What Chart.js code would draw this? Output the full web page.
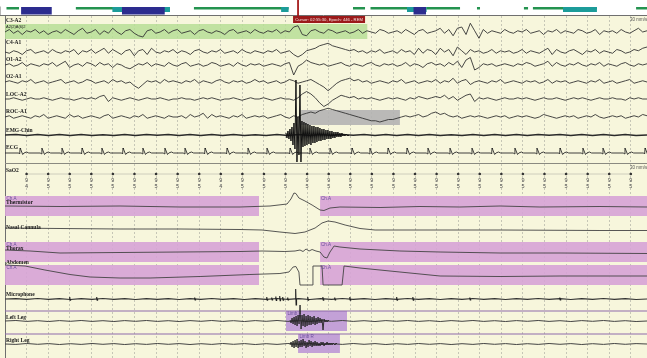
<!DOCTYPE html>
<html>
<head>
<meta charset="utf-8">
<script src="https://cdn.jsdelivr.net/npm/chart.js@4.4.1/dist/chart.umd.min.js"></script>
<style>
html,body{margin:0;padding:0;background:#f7f6dc;}
canvas{display:block;}
</style>
</head>
<body>
<canvas id="psg" width="647" height="358"></canvas>
<script>
"use strict";

// ---- data (time in seconds inside the 30 s epoch, amplitudes in screen units, up = positive)
var epochEnd = 29.75;
var cursorTime = 13.58;
var cursorText = "Cursor: 02:55:30, Epoch: 446 - REM";

var c3a2 = [0,2,-1,1,-2,1,0,2,-1,1, -2,0,1,-1,2,0,-2,1,3,-1, 0,2,-2,1,-1,3,0,-2,1,2,
  -1,-3,-4,1,2,-1,0,2,-1,1, 2,-1,0,1,-2,1,2,0,-1,1, 0,-2,1,2,-1,0,1,-1,2,0,
  -1,1,0,2,-1,1,0,4,5,-2, -3,1,2,0,-1,2,1,-1,0,1, -1,0,2,-1,1,0,-1,2,1,-1,
  0,1,-1,2,0,-2,1,2,-1,0, 1,3,-1,2,-3,3,4,-2,7,1, -5,2,-1,1,0,-1,2,0,-1,1,
  0,2,-1,0,1,-2,1,0,2,-1, 1,0,-1,2,1,-1,0,2,-2,1, 0,1,-1,2,0,-1,1,3,0,1];
var c4a1 = [0,-1,1,0,-2,1,2,-1,0,1, -1,2,0,-1,1,0,2,-2,1,0, 2,-1,1,3,-1,2,0,-2,1,2,
  -3,1,2,-2,3,0,-1,1,0,2, -1,1,0,-2,1,2,0,-1,1,0, 2,-1,0,1,-1,2,0,-1,1,0,
  -1,1,0,2,-1,0,1,-2,-4,-2, 1,2,3,5,6,7,5,4,3,2, 1,2,0,1,-1,1,0,2,-1,0,
  1,-1,2,0,1,-2,3,-1,2,1, -2,3,0,2,-3,4,1,-2,2,0, 1,-1,0,2,-1,1,0,1,-1,0,
  2,-1,1,0,-1,1,3,-2,2,0, -1,1,2,0,-2,1,0,2,-1,1, 0,-1,2,1,-1,0,2,1,3,4];
var o1a2 = [0,1,-1,0,2,-1,1,0,-1,1, 0,2,-1,1,3,-2,0,1,-1,2, 1,-1,2,0,1,-2,1,0,-2,-3,
  -1,1,0,2,-1,1,0,-1,2,0, -1,1,2,-1,0,1,-1,0,2,1, -1,0,1,-1,2,0,-1,1,0,1,
  -1,0,1,0,-1,1,2,-8,-1,1, 4,2,1,0,1,-1,0,1,2,0, -1,1,0,-1,1,2,0,-1,1,0,
  1,-1,0,2,-1,1,0,-2,1,2, 0,1,-1,2,0,3,-2,4,6,-4, -2,1,0,1,-1,0,1,0,-1,1,
  0,2,1,-1,0,1,3,-1,2,0, -1,1,0,2,0,-1,1,0,2,-1, 1,0,-1,1,2,0,-1,1,0,1];
var o2a1 = [0,1,0,-1,1,0,2,-1,0,1, -1,0,1,2,-1,0,1,-1,0,2, 1,-1,0,1,-1,2,0,1,-1,0,
  -3,-5,-2,1,0,1,-1,2,0,1, 0,-1,1,0,2,-1,1,0,-1,1, 2,0,-1,1,0,1,-1,0,2,0,
  1,-1,0,1,-1,0,2,1,-1,0, 1,2,0,-2,-4,-7,-4,-1,1,2, 3,1,2,0,1,-1,0,1,0,-1,
  1,0,2,-1,0,1,-1,0,1,0, 2,-1,1,0,3,-1,1,2,-2,0, 1,0,-1,1,0,2,-1,0,1,0,
  -1,1,0,1,-1,0,2,-1,1,0, 1,-1,0,1,0,-1,1,0,2,-1, 0,1,-1,0,1,2,-1,0,1,0];
var locA2 = [0,0,1,0,-1,0,1,0,0,1, 0,-1,0,1,0,0,-1,0,1,0, 1,0,2,3,-2,1,0,-1,0,1,
  0,-1,0,1,0,0,1,0,-1,0, 0,1,0,0,-1,0,1,0,1,0, -1,0,0,1,0,-1,0,1,0,0,
  1,0,-1,0,1,0,0,-1,1,4, 6,4,1,-3,-6,-4,-1,1,3,2, 1,2,0,1,0,1,0,-1,0,1,
  0,1,0,-1,1,0,2,1,0,1, 2,1,3,0,2,-1,1,3,4,-2, 1,0,1,0,-1,0,1,0,0,1,
  0,1,0,-1,0,1,0,0,1,0, -1,0,1,0,1,0,-1,0,1,0, 0,1,0,0,-1,1,0,1,0,0];
var rocA1 = [0,1,-1,0,1,0,-1,1,0,2, -1,0,1,0,-1,2,0,1,-1,0, 1,0,-1,1,2,-1,0,1,0,-1,
  1,0,2,-1,0,1,0,-1,1,0, 0,1,-1,2,0,1,3,-1,2,0, 1,0,-1,1,0,2,-1,0,1,0,
  1,-1,0,1,2,0,-1,1,0,2, 3,4,3,5,6,7,6,5,4,3, 2,1,0,-1,-2,-3,-3,-4,-3,-2,
  -2,-1,0,1,0,1,2,0,1,3, 4,2,3,1,0,1,-1,0,1,0, 1,0,-1,0,1,0,1,-1,0,1,
  0,1,0,-1,0,2,1,0,-1,0, 1,0,1,-1,0,1,0,2,0,-1, 0,1,0,1,-1,0,1,0,2,1];

var emgChin = [0,0.6,-0.5,0.4,-0.6,0.5,-0.4,0.6,-0.5,0.3,-0.6,0.5,-0.4,0.6,-0.3,0.5,-0.6,0.4,-0.5,0.6,
  -0.4,0.5,-0.6,0.3,-0.5,0.6,-0.4,0.5,-0.6,0.4,-0.5,0.6,-0.3,0.5,-0.6,0.4,-0.5,0.6,-0.4,0.5,
  -0.6,0.3,-0.5,0.6,-0.4,0.5,-0.6,0.4,-0.5,0.6,-0.3,0.5,-0.6,0.4,-0.5,0.6,-0.4,0.5,-0.6,0];
var emgBurstStart = 13.02;
var burstStep = 0.0463;
var emgBurst = [2,-3,4,-4,6,-6,8, -10,12,-14,55,-27,18,-20, 50,-27,14,-12,13,-11,12,
  -10,11,-9,10,-10,9,-8, 9,-8,8,-7,8,-6,7, -6,6,-5,6,-5,5,-4, 5,-4,4,-4,4,-3,3,
  -3,3,-2,3,-2,2,-2, 2,-1,1,-1,1,0,-1,0];

var ecgBeats = [0.70,1.71,2.64,3.57,4.49,5.47,6.39,7.41,8.34,9.27,10.29,11.26,12.14,13.21,14.13,
  15.06,16.08,16.91,17.75,18.63,19.60,20.62,21.64,22.57,23.63,24.65,25.72,26.78,27.71,28.73,29.66];
var ecgBeatOffsets = [-0.06,-0.02,0.0,0.02,0.12,0.18,0.30,0.40];
var ecgBeatValues  = [0,-1,5,4,-1.5,0,1,0];

var sao2Times  = [1,2,3,4,5,6,7,8,9,10,11,12,13,14,15,16,17,18,19,20,21,22,23,24,25,26,27,28,29];
var sao2Values = [94,95,95,95,95,95,95,95,95,94,95,95,95,95,95,95,95,95,95,95,95,95,95,95,95,95,95,95,95];

var thermTimes  = [0,2.55,5.33,8.11,10.89,12.28,13.07,13.25,13.39,13.48,13.62,13.90,14.23,14.60,14.78,15.06,15.52,17.38,19.23,21.08,22.94,24.79,27.57,29.75];
var thermValues = [0,-0.5,0,-1,-1,0,2,7,13,12.5,8,5,1,-4,-4.5,-2,-1,-1.5,-0.5,-1,0,-1,-0.5,-1];
var nasalTimes  = [0,2.55,5.33,8.11,10.89,11.91,12.74,13.44,13.90,14.37,14.69,14.97,15.29,15.76,16.45,17.15,19.23,22.94,27.57,29.75];
var nasalValues = [1,0.5,0,0,-0.5,-1,-3,-4.5,-3,1,6,8,7,4,0.5,-1,-1,-1,-1.5,-1.5];
var thoraxTimes  = [0,1.16,2.55,5.33,8.11,10.89,11.91,12.97,13.44,13.67,13.81,13.95,14.09,14.23,14.41,14.60,14.78,14.92,15.06,15.25,15.52,16.45,18.30,20.16,22.94,25.72,29.75];
var thoraxValues = [2,1,-1,-0.5,0,0.5,1,0.5,1,2,0.5,3,1,2.5,1,0,-5,-6,0,6,5,3,1,0,-1,-1,-1.5];
var abdomenTimes  = [0,0.93,1.85,3.01,3.94,5.33,6.72,9.04,11.35,12.74,13.16,13.35,13.48,13.62,13.67,14.23,14.27,14.69,14.74,15.62,15.71,16.45,18.30,20.16,22.94,25.72,29.75];
var abdomenValues = [10,9,5,0.5,-2,-3,-3,-1.5,0.5,1.5,3,8,8.5,3,-10,-10,9,9,-10,-10,9,7,3,-1,-1.5,-1,-1];

var micBase = [0,0.4,-0.3,0.5,-0.4,0.3,-0.5,0.4,-0.3,0.5,-0.4,0.3,-0.5,0.4,-0.3,0.4,-0.5,0.3,-0.4,0.5,
  -0.3,0.4,-0.5,0.3,-0.4,0.5,-0.3,0.4,-0.5,0.3,-0.4,0.5,-0.3,0.4,-0.5,0.3,-0.4,0.5,-0.3,0.4,
  -0.5,0.3,-0.4,0.5,-0.3,0.4,-0.5,0.3,-0.4,0.5,-0.3,0.4,-0.5,0.3,-0.4,0.5,-0.3,0.4,-0.5,0];
var micBlipTimes = [3.01,4.26,8.80,12.14,12.37,12.56,12.74,12.88,13.11,13.48,14.04,14.74,15.29,15.99,18.16,18.91,21.55,25.72];
var micBlipSizes = [2,2,1.5,2,1.5,2.5,3,2,1.5,10,2,2,1.5,2,2,2,1.5,1.5];
var micBlipShape = [[-0.03,0],[-0.01,1],[0.01,-0.6],[0.03,0]];

var leftLegBase = [0,0.5,-0.4,0.3,-0.5,0.4,-0.3,0.5,-0.4,0.3,-0.5,0.4,-0.3,0.5,-0.4,0.3,-0.5,0.4,-0.3,0.5,
  -0.4,0.3,-0.5,0.4,-0.3,0.5,-0.4,0.3,-0.5,0.4,-0.3,0.5,-0.4,0.3,-0.5,0.4,-0.3,0.5,-0.4,0.3,
  -0.5,0.4,-0.3,0.5,-0.4,0.3,-0.5,0.4,-0.3,0.5,-0.4,0.3,-0.5,0.4,-0.3,0.5,-0.4,0.3,-0.5,0];
var leftLegBurstStart = 13.21;
var leftLegBurst = [1,-2,3,-3,4,-4,5,-5,6,-3, 16,-8,6,-5,7,-6,5,-5,6,-4,
  5,-4,4,-3,5,-4,3,-3,4,-2, 3,-2,2,-9,2,-1,1,-1,1,0];
var rightLegBase = [0,-0.4,0.5,-0.3,0.4,-0.5,0.3,-0.4,0.5,-0.3,0.4,-0.5,0.3,-0.4,0.5,-0.3,0.4,-0.5,0.3,-0.4,
  0.5,-0.3,0.4,-0.5,0.3,-0.4,0.5,-0.3,0.4,-0.5,0.3,-0.4,0.5,-0.3,0.4,-0.5,0.3,-0.4,0.5,-0.3,
  0.4,-0.5,0.3,-0.4,0.5,-0.3,0.4,-0.5,0.3,-0.4,0.5,-0.3,0.4,-0.5,0.3,-0.4,0.5,-0.3,0.4,0];
var rightLegBurstStart = 13.21;
var rightLegBurst = [-1,2,-3,3,-4,4,-3,5,-4,3, -3,4,-3,5,-2,3,-4,2,-3,4,
  -2,3,-3,2,-2,3,-2,2,-2,1, -2,2,-1,2,-2,1,-1,2,-1,1, -1,1,-1,1,0,-1,1,0];

// scored events [start, end] in seconds
var c3Highlight = [[0, 16.80]];
var apneaEvents = [[0, 11.77], [14.60, 29.75]];
var rocEvent    = [[13.72, 18.30]];
var limbLEvent  = [[13.02, 15.85]];
var limbREvent  = [[13.58, 15.52]];

// hypnogram of the night, position in percent of the recording
var hypStart = [0.2,2.5,11,16.7,18.2,24.6,29.4,43,54.2,56.9,62.6,63.6,65.6,73.5,80.8,82.2,86.9,98.3];
var hypEnd   = [2.2,7.3,17.9,18.5,24.9,25.7,44.2,44.2,56.1,63.6,65.7,65.6,70.9,74,81.5,92.2,92.2,100];
var hypStage = [1,3,1,2,3,2,1,2,1,1,2,3,1,1,1,1,2,1];

// ---- layout
var eegGain = 1.25;
var rowY = {c3:32, c4:52, o1:65, o2:82, loc:99, roc:117, emg:135, ecg:153, sao2:174,
  therm:206, nasal:229, thorax:252, abdomen:275, mic:299, lleg:321, rleg:344};
var labels = [["C3-A2",21],["C4-A1",43],["O1-A2",60],["O2-A1",77],["LOC-A2",95],["ROC-A1",112],
  ["EMG-Chin",131],["ECG",148],["SaO2",171],["Thermistor",203],["Nasal Cannula",228],["Thorax",249],
  ["Abdomen",263],["Microphone",295],["Left Leg",318],["Right Leg",341]];
var stageColor = {1:"#24934f", 2:"#1c9c9a", 3:"#2c2c8e"};
var stageBottom = {1:9.5, 2:12, 3:14.5};
var stageOrder = {1:7, 2:6, 3:5};

function evenSamples(values, base, gain) {
  var dt = epochEnd / (values.length - 1), g = gain || 1;
  return values.map(function (v, i) { return {x: i * dt, y: base - v * g}; });
}
function stepSamples(values, base, t0) {
  return values.map(function (v, i) { return {x: t0 + i * burstStep, y: base - v}; });
}
function pairSamples(times, values, base) {
  return times.map(function (t, i) { return {x: t, y: base - values[i]}; });
}
function trace(points, extra) {
  return Object.assign({data: points, borderColor: "#333", borderWidth: 0.9, pointRadius: 0,
    tension: 0, fill: false, order: 0}, extra || {});
}
function bands(intervals, top, bottom, color) {
  return intervals.map(function (iv) {
    return {data: [{x: iv[0], y: top}, {x: iv[1], y: top}], fill: {value: bottom},
      backgroundColor: color, borderColor: "rgba(0,0,0,0)", borderWidth: 0, pointRadius: 0, order: 10};
  });
}

var ecgPoints = [{x: 0, y: rowY.ecg}];
ecgBeats.forEach(function (b) {
  ecgBeatOffsets.forEach(function (o, k) { ecgPoints.push({x: b + o, y: rowY.ecg - ecgBeatValues[k]}); });
});
ecgPoints.push({x: epochEnd, y: rowY.ecg});

var micBlips = [];
micBlipTimes.forEach(function (t, i) {
  micBlipShape.forEach(function (s) { micBlips.push({x: t + s[0], y: rowY.mic - s[1] * micBlipSizes[i]}); });
  micBlips.push({x: t + 0.04, y: null});
});

var datasets = [];
datasets.push(trace(stepSamples(emgBurst, rowY.emg, emgBurstStart), {borderColor: "#111", borderWidth: 1}));
datasets.push(trace(evenSamples(c3a2, rowY.c3, eegGain)));
datasets.push(trace(evenSamples(c4a1, rowY.c4, eegGain)));
datasets.push(trace(evenSamples(o1a2, rowY.o1, eegGain)));
datasets.push(trace(evenSamples(o2a1, rowY.o2, eegGain)));
datasets.push(trace(evenSamples(locA2, rowY.loc, eegGain)));
datasets.push(trace(evenSamples(rocA1, rowY.roc, eegGain)));
datasets.push(trace(evenSamples(emgChin, rowY.emg), {borderWidth: 1.5, borderColor: "#2a2a2a"}));
datasets.push(trace(ecgPoints, {borderColor: "#2a2a2a"}));
datasets.push(trace(sao2Times.map(function (t) { return {x: t, y: rowY.sao2}; }),
  {borderColor: "#c4c4b4", borderWidth: 0.8, pointRadius: 1.3, pointBackgroundColor: "#333", pointBorderWidth: 0}));
datasets.push(trace(pairSamples(thermTimes, thermValues, rowY.therm), {borderColor: "#444"}));
datasets.push(trace(pairSamples(nasalTimes, nasalValues, rowY.nasal), {borderColor: "#444"}));
datasets.push(trace(pairSamples(thoraxTimes, thoraxValues, rowY.thorax), {borderColor: "#444"}));
datasets.push(trace(pairSamples(abdomenTimes, abdomenValues, rowY.abdomen), {borderColor: "#444"}));
datasets.push(trace(micBlips, {borderColor: "#222", borderWidth: 1.1, spanGaps: false}));
datasets.push(trace(evenSamples(micBase, rowY.mic), {borderWidth: 1.2, borderColor: "#333"}));
datasets.push(trace(stepSamples(leftLegBurst, rowY.lleg, leftLegBurstStart), {borderColor: "#222"}));
datasets.push(trace(evenSamples(leftLegBase, rowY.lleg), {borderWidth: 1, borderColor: "#444"}));
datasets.push(trace(stepSamples(rightLegBurst, rowY.rleg, rightLegBurstStart), {borderColor: "#222"}));
datasets.push(trace(evenSamples(rightLegBase, rowY.rleg), {borderWidth: 1, borderColor: "#444"}));
datasets.push(trace([{x: 0, y: 311}, {x: epochEnd, y: 311}], {borderColor: "#8e6bab", borderWidth: 1, order: 9}));
datasets.push(trace([{x: 0, y: 334}, {x: epochEnd, y: 334}], {borderColor: "#8e6bab", borderWidth: 1, order: 9}));
datasets.push(trace([{x: cursorTime, y: 0}, {x: cursorTime, y: 17}], {borderColor: "#a31515", borderWidth: 1, order: 1}));

hypStart.forEach(function (s, i) {
  var st = hypStage[i];
  datasets.push({xAxisID: "xh", data: [{x: s, y: 7}, {x: hypEnd[i], y: 7}], fill: {value: stageBottom[st]},
    backgroundColor: stageColor[st], borderColor: "rgba(0,0,0,0)", borderWidth: 0, pointRadius: 0, order: stageOrder[st]});
});

datasets = datasets
  .concat(bands(c3Highlight, 24, 39, "rgba(183,222,150,0.85)"))
  .concat(bands(rocEvent, 110, 125, "rgba(178,178,178,0.9)"))
  .concat(bands(apneaEvents, 196, 216, "rgba(214,163,214,0.9)"))
  .concat(bands(apneaEvents, 242, 262, "rgba(214,163,214,0.9)"))
  .concat(bands(apneaEvents, 265, 285, "rgba(214,163,214,0.9)"))
  .concat(bands(limbLEvent, 311, 331, "rgba(192,156,214,0.95)"))
  .concat(bands(limbREvent, 334, 353, "rgba(192,156,214,0.95)"));

var frame = {
  id: "frame",
  beforeDraw: function (chart) {
    var ctx = chart.ctx;
    ctx.save();
    ctx.fillStyle = "#f7f6dc";
    ctx.fillRect(0, 0, chart.width, chart.height);
    ctx.restore();
  },
  beforeDatasetsDraw: function (chart) {
    var ctx = chart.ctx, y = chart.scales.y;
    ctx.save();
    ctx.fillStyle = "#ffffff";
    ctx.fillRect(0, 0, chart.width, y.getPixelForValue(15.5));
    ctx.strokeStyle = "#6f6f6f";
    ctx.lineWidth = 1;
    ctx.beginPath();
    ctx.moveTo(0, 15.5); ctx.lineTo(chart.width, 15.5);
    ctx.moveTo(5.5, 15.5); ctx.lineTo(5.5, chart.height);
    ctx.moveTo(0, 6.5); ctx.lineTo(0, 15.5);
    ctx.stroke();
    ctx.strokeStyle = "#8a8a80";
    ctx.beginPath();
    ctx.moveTo(5, 163.5); ctx.lineTo(chart.width, 163.5);
    ctx.stroke();
    ctx.restore();
  },
  afterDatasetsDraw: function (chart) {
    var ctx = chart.ctx, x = chart.scales.x, y = chart.scales.y;
    ctx.save();
    ctx.textBaseline = "middle";
    ctx.fillStyle = "#1a1a1a";
    ctx.font = "bold 5.5px 'Liberation Serif'";
    labels.forEach(function (l) { ctx.fillText(l[0], 6, y.getPixelForValue(l[1])); });
    ctx.font = "4px 'Liberation Sans'";
    ctx.fillText("A2(2)A(6)2", 6, y.getPixelForValue(27));
    ctx.fillStyle = "#555";
    ctx.font = "4.5px 'Liberation Sans'";
    ctx.fillText("30 mm/s", 630, y.getPixelForValue(20));
    ctx.fillText("30 mm/s", 630, y.getPixelForValue(168));
    // event tags
    ctx.fillStyle = "#6a4f9a";
    ctx.font = "4.5px 'Liberation Sans'";
    [[196, 198.5], [242, 244.5], [265, 268]].forEach(function (r) {
      apneaEvents.forEach(function (iv) { ctx.fillText("Ch.A", x.getPixelForValue(iv[0]) + (iv[0] === 0 ? 1.5 : 1), y.getPixelForValue(r[1])); });
    });
    ctx.fillText("Limb L", x.getPixelForValue(limbLEvent[0][0]) + 1.5, y.getPixelForValue(314));
    ctx.fillText("Limb R", x.getPixelForValue(limbREvent[0][0]) + 1.5, y.getPixelForValue(337));
    // SaO2 digits
    ctx.fillStyle = "#555";
    ctx.font = "5.5px 'Liberation Sans'";
    ctx.textAlign = "center";
    sao2Times.forEach(function (t, i) {
      var s = String(sao2Values[i]);
      ctx.fillText(s.charAt(0), x.getPixelForValue(t), y.getPixelForValue(180));
      ctx.fillText(s.charAt(1), x.getPixelForValue(t), y.getPixelForValue(186.5));
    });
    // cursor tag
    var cx = x.getPixelForValue(cursorTime);
    ctx.fillStyle = "#9b1a1a";
    ctx.fillRect(cx - 5, 16, 72, 7);
    ctx.fillStyle = "#f4e4e4";
    ctx.font = "4.2px 'Liberation Sans'";
    ctx.fillText(cursorText, cx + 31, 19.7);
    ctx.restore();
  }
};

new Chart(document.getElementById("psg").getContext("2d"), {
  type: "line",
  data: {datasets: datasets},
  options: {
    responsive: false,
    animation: false,
    events: [],
    layout: {autoPadding: false, padding: {left: 5, right: 0, top: 0, bottom: 0}},
    plugins: {legend: {display: false}, tooltip: {enabled: false}},
    scales: {
      x: {type: "linear", min: 0, max: epochEnd, position: "bottom",
        ticks: {display: false, stepSize: 1, includeBounds: false},
        grid: {color: "#c6c6b6", lineWidth: 1, drawTicks: false},
        border: {display: false, dash: [2, 2]}},
      xh: {type: "linear", min: 0, max: 100, display: false},
      y: {type: "linear", min: 0, max: 358, reverse: true, display: false}
    }
  },
  plugins: [frame]
});
</script>
</body>
</html>
